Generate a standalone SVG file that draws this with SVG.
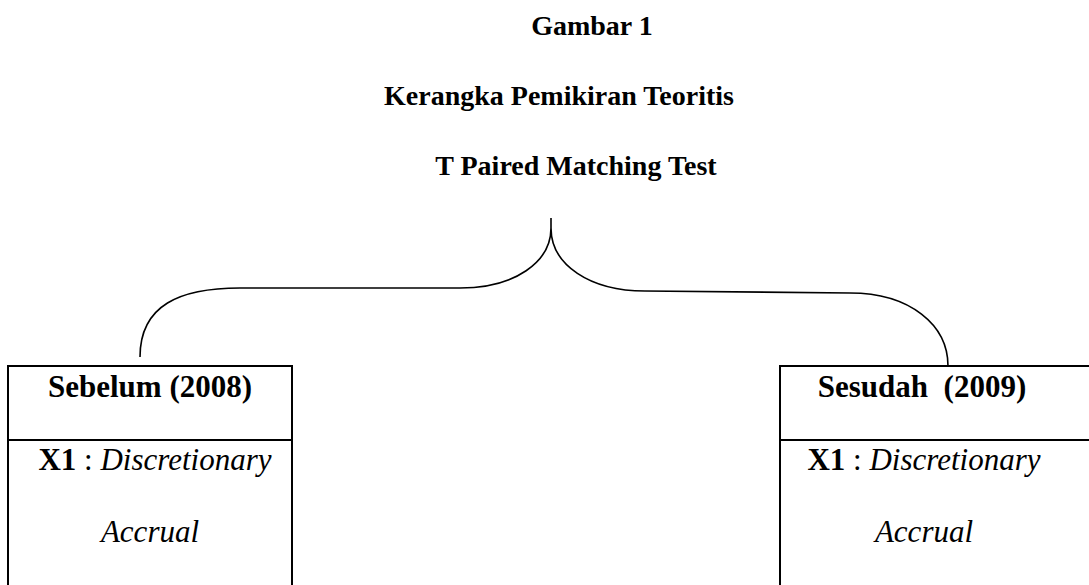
<svg xmlns="http://www.w3.org/2000/svg" width="1089" height="585" viewBox="0 0 1089 585">
<style>
.t{font-family:"Liberation Serif","Times New Roman",serif;font-size:28px;fill:#000;text-anchor:middle}
.n{font-size:31px}
.b{font-weight:bold}
.i{font-style:italic}
.box{fill:none;stroke:#000;stroke-width:2}
.brace{fill:none;stroke:#000;stroke-width:1.6}
</style>
<rect width="1089" height="585" fill="#fff"/>
<g id="title">
<text class="t b" x="592" y="35" font-size="30">Gambar 1</text>
<text class="t b" x="559" y="105">Kerangka Pemikiran Teoritis</text>
<text class="t b" x="576" y="175" font-size="27">T Paired Matching Test</text>
</g>
<g id="connectors">
<path class="brace" d="M140,357 C140,305 180,288 240,288 L460,288 C515,288 551,262 551,228 L551,218 M551,228 C551,265 590,291 645,291 L850,293 C910,293 948,325 948,366"/>
</g>
<g id="node-sebelum">
<rect class="box" x="8" y="366" width="284" height="240"/>
<line class="box" x1="8" y1="440" x2="292" y2="440"/>
<text class="t n b" x="150" y="397">Sebelum (2008)</text>
<text class="t n" x="155" y="470"><tspan class="b">X1</tspan> : <tspan class="i">Discretionary</tspan></text>
<text class="t n i" x="150" y="542">Accrual</text>
</g>
<g id="node-sesudah">
<rect class="box" x="780" y="366" width="330" height="240"/>
<line class="box" x1="780" y1="440" x2="1100" y2="440"/>
<text class="t n b" x="922" y="397" xml:space="preserve">Sesudah  (2009)</text>
<text class="t n" x="924" y="470"><tspan class="b">X1</tspan> : <tspan class="i">Discretionary</tspan></text>
<text class="t n i" x="924" y="542">Accrual</text>
</g>
</svg>
